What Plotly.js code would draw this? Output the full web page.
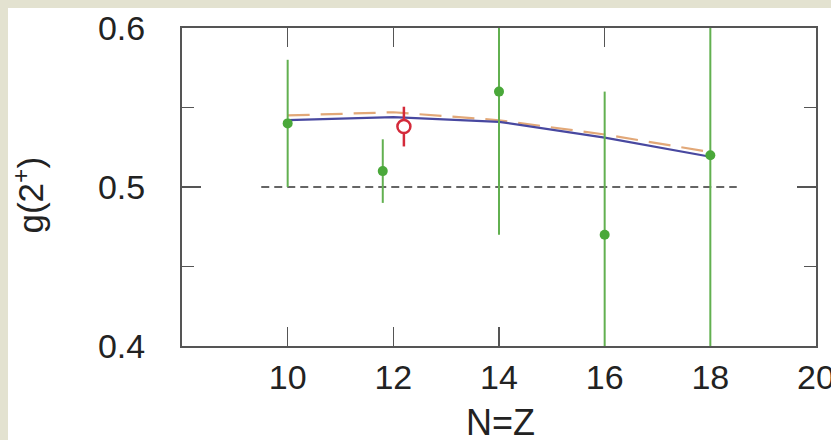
<!DOCTYPE html>
<html>
<head>
<meta charset="utf-8">
<script src="https://cdn.plot.ly/plotly-3.0.1.min.js"></script>
<style>
  html, body { margin: 0; padding: 0; background: #e3e2d0; width: 831px; height: 440px; overflow: hidden; }
  #sheet { position: absolute; left: 8px; top: 8px; width: 823px; height: 432px; background: #ffffff; }
  #chart { position: absolute; left: 0; top: 0; width: 831px; height: 440px; }
</style>
</head>
<body>
<div id="sheet"></div>
<div id="chart"></div>
<script>
// Experimental g(2+) values (green)
const expX = [10, 11.8, 14, 16, 18];
const expY = [0.54, 0.51, 0.56, 0.47, 0.52];
const expErrPlus = [0.04, 0.02, 0.04, 0.09, 0.08];
const expErrMinus = [0.04, 0.02, 0.09, 0.07, 0.12];

// New measurement (red open circle)
const newX = [12.2];
const newY = [0.538];
const newErr = [0.0125];

// Theory curves
const theoryX = [10, 12, 14, 16, 18];
const theoryBlue = [0.542, 0.544, 0.541, 0.531, 0.519];
const theoryOrange = [0.545, 0.547, 0.542, 0.533, 0.522];

// Reference line g = 0.5
const refX = [9.5, 18.5];
const refY = [0.5, 0.5];

// Axis ticks and titles
const xTicks = [10, 12, 14, 16, 18, 20];
const yTicks = [0.4, 0.5, 0.6];
const yTickText = ['0.4', '0.5', '0.6'];
const yMinor = [0.45, 0.55];
const xTitle = 'N=Z';
const yTitle = 'g(2<sup>+</sup>)';

const FONT = 'Liberation Sans, Arial, sans-serif';

const traces = [
  { x: refX, y: refY, type: 'scatter', mode: 'lines',
    line: { color: '#333333', width: 1.5, dash: '8px,5px' }, hoverinfo: 'skip' },
  { x: theoryX, y: theoryOrange, type: 'scatter', mode: 'lines',
    line: { color: '#e2a878', width: 2.2, dash: '22px,11px' } },
  { x: theoryX, y: theoryBlue, type: 'scatter', mode: 'lines',
    line: { color: '#4848a0', width: 2.2 } },
  { x: expX, y: expY, type: 'scatter', mode: 'markers',
    marker: { color: '#4aa83a', size: 10 },
    error_y: { type: 'data', symmetric: false, array: expErrPlus, arrayminus: expErrMinus,
               visible: true, color: '#62b050', thickness: 2, width: 0 } },
  { x: newX, y: newY, type: 'scatter', mode: 'markers',
    marker: { color: '#ffffff', size: 13, symbol: 'circle', line: { color: '#d42a3a', width: 2.5 } },
    error_y: { type: 'data', array: newErr, visible: true, color: '#d42a3a', thickness: 2.5, width: 0 } }
];

const layout = {
  width: 831, height: 440,
  margin: { l: 182, r: 15, t: 28, b: 94 },
  paper_bgcolor: 'rgba(0,0,0,0)', plot_bgcolor: '#ffffff',
  showlegend: false,
  font: { family: FONT, size: 34, color: '#222222' },
  xaxis: {
    range: [8, 20], tickvals: xTicks, ticktext: xTicks.map(String),
    ticks: 'inside', ticklen: 19, tickwidth: 1.5, tickcolor: '#555555',
    showline: true, linecolor: '#555555', linewidth: 2, mirror: 'ticks',
    showgrid: false, zeroline: false, ticklabeloverflow: 'allow', layer: 'below traces',
    ticklabelstandoff: 0
  },
  yaxis: {
    range: [0.4, 0.6], tickvals: yTicks, ticktext: yTickText,
    ticks: 'inside', ticklen: 19, tickwidth: 1.5, tickcolor: '#555555',
    minor: { tickvals: yMinor, ticks: 'inside', ticklen: 12, tickwidth: 1.5, tickcolor: '#555555', showgrid: false },
    showline: true, linecolor: '#555555', linewidth: 2, mirror: 'ticks',
    showgrid: false, zeroline: false, ticklabeloverflow: 'allow', layer: 'below traces',
    ticklabelstandoff: 28
  },
  annotations: [
    { text: xTitle, xref: 'paper', yref: 'paper', x: 0.503, y: -0.239,
      xanchor: 'center', yanchor: 'middle', showarrow: false,
      font: { family: FONT, size: 36, color: '#222222' } },
    { text: yTitle, xref: 'paper', yref: 'paper', x: -0.242, y: 0.475, textangle: -90,
      xanchor: 'center', yanchor: 'middle', showarrow: false,
      font: { family: FONT, size: 35, color: '#222222' } }
  ]
};

Plotly.newPlot('chart', traces, layout, { staticPlot: true, displayModeBar: false });
</script>
</body>
</html>
